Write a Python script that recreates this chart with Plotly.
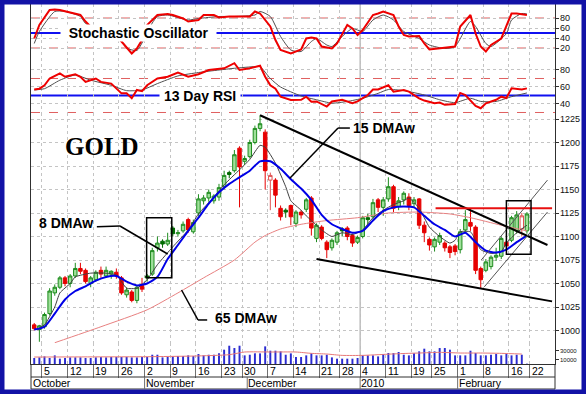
import plotly.graph_objects as go
import pandas as pd

# ---------------- calendar (US trading sessions) ----------------
HOLIDAYS = ["2009-11-26", "2009-12-25", "2010-01-01", "2010-01-18", "2010-02-15"]
axis_days = [d for d in pd.bdate_range("2009-10-01", "2010-02-26")
             if d.strftime("%Y-%m-%d") not in HOLIDAYS]
FIRST_SESSION = -2          # 1 Oct 2009 ; session 0 = Mon 5 Oct 2009
sessions = [FIRST_SESSION + i for i in range(len(axis_days))]

MONTH_TEXT = {10: "October", 11: "November", 12: "December", 1: "2010", 2: "February"}

# ---------------- price data (1 Oct 2009 .. 19 Feb 2010) ----------------
opens = [1006, 1001, 1004, 1018, 1040, 1046, 1056, 1050, 1058, 1066,
         1064, 1050, 1054, 1064, 1058, 1060, 1062, 1056, 1038, 1041,
         1032, 1048, 1058, 1060, 1088, 1095, 1092, 1109, 1103, 1106,
         1118, 1105, 1125, 1138, 1141, 1138, 1142, 1153, 1168, 1170,
         1194, 1180, 1185, 1200, 1215, 1211, 1160, 1160, 1130, 1128,
         1133, 1114, 1126, 1129, 1141, 1098, 1110, 1094, 1088, 1094,
         1108, 1109, 1101, 1094, 1100, 1120, 1121, 1139, 1131, 1140,
         1153, 1132, 1139, 1142, 1135, 1140, 1112, 1097, 1089, 1094,
         1093, 1089, 1090, 1086, 1107, 1115, 1110, 1066, 1064, 1068,
         1078, 1079, 1094, 1096, 1106, 1108, 1106]
highs = [1008, 1006, 1019, 1045, 1049, 1058, 1058, 1060, 1072, 1072,
         1066, 1058, 1064, 1068, 1068, 1064, 1066, 1058, 1046, 1043,
         1048, 1056, 1060, 1088, 1100, 1097, 1104, 1111, 1107, 1116,
         1120, 1118, 1145, 1144, 1150, 1145, 1156, 1170, 1170, 1192,
         1196, 1186, 1203, 1218, 1229, 1214, 1168, 1162, 1133, 1130,
         1134, 1128, 1128, 1141, 1143, 1114, 1112, 1096, 1098, 1106,
         1110, 1111, 1103, 1101, 1122, 1124, 1140, 1141, 1142, 1163,
         1155, 1142, 1148, 1146, 1142, 1141, 1116, 1099, 1099, 1104,
         1095, 1091, 1092, 1108, 1128, 1130, 1112, 1068, 1076, 1080,
         1088, 1100, 1096, 1122, 1127, 1125, 1126]
lows = [1000, 988, 1002, 1016, 1037, 1044, 1047, 1046, 1056, 1060,
        1050, 1046, 1052, 1056, 1056, 1055, 1055, 1038, 1035, 1030,
        1029, 1041, 1052, 1058, 1084, 1088, 1090, 1100, 1100, 1104,
        1104, 1103, 1122, 1134, 1137, 1135, 1138, 1150, 1162, 1168,
        1131, 1176, 1183, 1198, 1212, 1150, 1128, 1131, 1117, 1120,
        1112, 1110, 1119, 1126, 1101, 1094, 1096, 1077, 1085, 1091,
        1100, 1096, 1089, 1092, 1098, 1113, 1118, 1126, 1122, 1137,
        1126, 1128, 1134, 1128, 1131, 1108, 1094, 1085, 1084, 1091,
        1084, 1077, 1080, 1082, 1105, 1106, 1060, 1045, 1062, 1065,
        1074, 1076, 1086, 1094, 1103, 1100, 1103]
closes = [1002, 1005, 1017, 1042, 1046, 1056, 1050, 1058, 1066, 1063,
          1052, 1056, 1062, 1060, 1064, 1063, 1058, 1040, 1043, 1032,
          1046, 1044, 1056, 1085, 1093, 1092, 1096, 1103, 1104, 1113,
          1107, 1115, 1140, 1141, 1147, 1143, 1152, 1165, 1166, 1187,
          1174, 1183, 1200, 1215, 1220, 1170, 1165, 1144, 1121, 1126,
          1121, 1126, 1123, 1139, 1109, 1112, 1098, 1086, 1096, 1104,
          1106, 1100, 1093, 1099, 1120, 1118, 1136, 1131, 1139, 1153,
          1130, 1138, 1146, 1133, 1139, 1112, 1104, 1091, 1097, 1101,
          1088, 1083, 1084, 1105, 1118, 1111, 1064, 1054, 1073, 1078,
          1080, 1098, 1090, 1120, 1123, 1122, 1124]
# candle style: g = up (light green), r = down (red), d = dark green filled, p = hollow pink
styles = ["r", "g", "g", "g", "g", "g", "r", "g", "g", "r",
          "r", "g", "g", "r", "g", "g", "r", "r", "g", "r",
          "g", "r", "d", "g", "g", "d", "g", "d", "g", "g",
          "r", "g", "g", "g", "g", "g", "g", "g", "d", "g",
          "r", "g", "g", "g", "g", "r", "p", "r", "r", "d",
          "r", "g", "r", "g", "r", "g", "r", "r", "g", "g",
          "d", "r", "r", "g", "g", "d", "g", "r", "g", "g",
          "r", "g", "g", "r", "g", "r", "r", "r", "g", "g",
          "r", "r", "r", "g", "g", "r", "r", "r", "g", "g",
          "g", "g", "r", "g", "g", "p", "g"]
volume = [13700, 15100, 17400, 13700, 19700, 12200, 13700, 15100, 15100, 15100,
          13700, 13700, 15100, 15800, 15100, 16000, 16000, 16000, 16000, 15100,
          15100, 16000, 16000, 21200, 21200, 15100, 16000, 17400, 18100, 18100,
          19700, 18100, 22800, 19700, 21200, 21200, 24300, 32700, 41800, 36500,
          41800, 19700, 21200, 24300, 24300, 40300, 30400, 30400, 28900, 21200,
          24300, 16000, 16000, 19700, 24300, 19700, 19700, 21200, 15100, 12200,
          12200, 12200, 12200, 13700, 19700, 19700, 19700, 17400, 22800, 25100,
          25100, 27400, 21200, 19700, 24300, 28900, 35000, 28900, 28900, 36500,
          36500, 32700, 19700, 19700, 19700, 30400, 25100, 19700, 19700, 21200,
          22800, 19700, 22800, 19700, 21200, 21200, 800]

# ---------------- indicator readings (session number, value) ----------------
ma8_s = [-1, 0, 2, 3, 5, 6, 9, 12, 14, 15, 16, 18, 20, 22, 25, 28, 30, 33, 35, 38, 40, 42, 43, 45,
         47, 48, 50, 51, 52, 54, 56, 58, 60, 62, 64, 66, 68, 70, 71, 73, 75, 77, 79, 80, 81, 83,
         84, 85, 87, 89, 90, 92, 94]
ma8_v = [1003, 1006, 1025, 1040, 1050, 1057, 1061, 1061, 1059, 1052, 1045, 1045, 1054, 1070, 1089,
         1107, 1124, 1142, 1155, 1171, 1182, 1197, 1195, 1178, 1153, 1138, 1128, 1122, 1117, 1107,
         1100, 1104, 1102, 1107, 1120, 1128, 1134, 1138, 1141, 1130, 1110, 1100, 1093, 1096, 1105,
         1105, 1096, 1086, 1082, 1084, 1093, 1104, 1112]
ma15_s = [-2, 0, 2, 4, 6, 8, 10, 12, 14, 16, 18, 20, 22, 24, 26, 28, 30, 32, 34, 36, 38, 40, 42, 44,
          46, 48, 50, 52, 54, 56, 58, 60, 62, 64, 66, 68, 70, 72, 74, 76, 78, 80, 82, 84, 86, 88,
          90, 92, 94]
ma15_v = [1001, 1004, 1018, 1033, 1042, 1047, 1053, 1057, 1058, 1052, 1048, 1050, 1057, 1076, 1091,
          1106, 1120, 1135, 1147, 1156, 1163, 1170, 1180, 1180, 1172, 1161, 1151, 1139, 1123, 1113,
          1108, 1104, 1106, 1117, 1127, 1131, 1132, 1131, 1122, 1113, 1107, 1100, 1104, 1094, 1085,
          1083, 1086, 1094, 1101]
ma65_s = [2, 11, 20, 26, 31, 37, 41, 43, 46, 50, 55, 61, 67, 73, 79, 83, 89, 94]
ma65_v = [987, 1004, 1022, 1040, 1056, 1075, 1094, 1101, 1108, 1113, 1117, 1120, 1125, 1126, 1124,
          1120, 1112, 1106]
volma_s = [-2, 10, 20, 29, 36, 39, 44, 49, 52, 55, 58, 62, 65, 69, 73, 77, 81, 85, 89, 93]
volma_v = [15900, 16300, 16700, 18200, 21300, 27400, 27400, 27400, 24300, 22800, 19700, 19700,
           21300, 23600, 25100, 26600, 25100, 25100, 24300, 22800]

stoch_k_s = [-2, -1, 1, 2, 3, 5, 7, 8, 10, 12, 14, 15, 17, 18, 19, 20, 22, 24, 25, 27, 28, 30, 31, 33,
             34, 36, 38, 40, 41, 42, 44, 45, 46, 48, 50, 51, 52, 53, 54, 56, 57, 58, 59, 60, 61, 62,
             64, 65, 66, 68, 69, 70, 71, 73, 74, 75, 77, 79, 80, 81, 83, 84, 85, 86, 87, 89, 90, 91,
             92, 94]
stoch_k_v = [39, 66, 96, 97, 96, 91, 86, 73, 52, 58, 45, 33, 9, 19, 36, 66, 86, 88, 86, 79, 73, 76,
             86, 86, 81, 83, 83, 83, 93, 89, 63, 36, 16, 9, 17, 39, 41, 39, 23, 19, 29, 49, 66, 59,
             46, 56, 86, 89, 93, 86, 63, 46, 43, 44, 29, 17, 19, 21, 23, 63, 86, 49, 23, 13, 26, 39,
             63, 89, 89, 86]
stoch_d_s = [-2, -1, 2, 4, 7, 8, 10, 12, 14, 16, 18, 19, 21, 22, 24, 28, 30, 34, 37, 41, 42, 44, 46,
             48, 50, 52, 53, 55, 56, 58, 60, 62, 64, 66, 68, 70, 73, 75, 78, 80, 83, 84, 86, 87, 90,
             91, 93, 94]
stoch_d_v = [29, 53, 93, 93, 83, 69, 60, 55, 48, 20, 15, 30, 70, 83, 86, 76, 79, 83, 83, 86, 93, 83,
             43, 16, 13, 33, 39, 26, 23, 43, 59, 53, 76, 86, 76, 53, 39, 26, 19, 23, 73, 63, 29, 23,
             49, 76, 89, 88]
rsi_s = [-2, -1, 0, 1, 3, 4, 6, 7, 8, 10, 11, 13, 15, 16, 17, 18, 19, 20, 22, 24, 26, 28, 30, 32, 35,
         37, 38, 40, 42, 43, 44, 45, 46, 48, 50, 51, 52, 53, 55, 56, 58, 60, 61, 63, 64, 65, 67, 68,
         70, 71, 73, 74, 76, 77, 78, 80, 81, 82, 84, 85, 86, 88, 89, 90, 91, 93, 94]
rsi_v = [57, 58, 62, 70, 76, 72, 75, 72, 66, 70, 66, 64, 52.5, 52.5, 46.7, 56.5, 55, 62, 70, 72, 77,
         72, 75, 80, 82, 88, 80, 82, 85, 72, 62, 58, 48.6, 44.7, 45, 48.6, 42.7, 43, 37, 43, 45, 41,
         43, 50.6, 57, 57, 62, 54.5, 56.5, 54.5, 46.7, 44, 40.8, 41.6, 39, 40, 53, 50.6, 37.6, 35,
         40.8, 45, 48.6, 47, 58.4, 57, 58.4]
rsi_sig_s = [-2, 0, 3, 6, 9, 13, 16, 19, 22, 26, 30, 34, 37, 41, 42, 44, 46, 50, 53, 56, 59, 62, 65,
             67, 70, 74, 77, 80, 83, 85, 88, 91, 94]
rsi_sig_v = [56.5, 58, 68, 74, 68, 62, 55.7, 56.5, 64, 73, 77, 80, 82, 84, 84, 70, 60, 49.4, 45, 41,
             43, 46.7, 52.5, 57, 55.7, 50.6, 45, 41.6, 46.7, 43, 43, 48.6, 53]

price_ticks = [1000, 1025, 1050, 1075, 1100, 1125, 1150, 1175, 1200, 1225]

# ---------------- geometry helpers (pixels -> paper) ----------------
W, H = 586, 394
L, R, T, B = 31, 31, 4, 30
PW, PH = W - L - R, H - T - B
def px(xp):
    return (xp - L) / PW
def py(yp):
    return (H - B - yp) / PH

XMIN, XMAX = -2.63, 99.47
n = len(closes)
xc = sessions[:n]

fig = go.Figure()

# volume
fig.add_trace(go.Bar(x=xc, y=volume, width=0.38, marker=dict(color="#2b2bd0", line=dict(width=0)),
                     yaxis="y", hoverinfo="skip"))
fig.add_trace(go.Scatter(x=volma_s, y=volma_v, mode="lines", yaxis="y",
                         line=dict(color="#e87878", width=1, shape="spline", smoothing=0.6)))

# 65 DMA
fig.add_trace(go.Scatter(x=ma65_s, y=ma65_v, mode="lines", yaxis="y2",
                         line=dict(color="#e88080", width=1, shape="spline", smoothing=0.6)))

# candles
STYLE = {"g": ("#9fe09a", "#1e8c1e"), "r": ("#e60000", "#e60000"),
         "d": ("#006a00", "#006a00"), "p": ("#ffffff", "#e05050")}
for key, (fillc, linec) in STYLE.items():
    ids = [i for i, s in enumerate(styles) if s == key]
    side = dict(fillcolor=fillc, line=dict(color=linec, width=1))
    fig.add_trace(go.Candlestick(
        x=[xc[i] for i in ids], open=[opens[i] for i in ids], high=[highs[i] for i in ids],
        low=[lows[i] for i in ids], close=[closes[i] for i in ids],
        increasing=side, decreasing=side, yaxis="y2", whiskerwidth=0, hoverinfo="skip"))

fig.add_trace(go.Scatter(x=ma8_s, y=ma8_v, mode="lines", yaxis="y2",
                         line=dict(color="#404040", width=1, shape="spline", smoothing=0.5)))
fig.add_trace(go.Scatter(x=ma15_s, y=ma15_v, mode="lines", yaxis="y2",
                         line=dict(color="#0000e6", width=2, shape="spline", smoothing=0.6)))

# RSI
fig.add_trace(go.Scatter(x=rsi_sig_s, y=rsi_sig_v, mode="lines", yaxis="y3",
                         line=dict(color="#505050", width=1, shape="spline", smoothing=0.6)))
fig.add_trace(go.Scatter(x=rsi_s, y=rsi_v, mode="lines", yaxis="y3",
                         line=dict(color="#ee0000", width=2)))
# Stochastic
fig.add_trace(go.Scatter(x=stoch_d_s, y=stoch_d_v, mode="lines", yaxis="y4",
                         line=dict(color="#505050", width=1, shape="spline", smoothing=0.6)))
fig.add_trace(go.Scatter(x=stoch_k_s, y=stoch_k_v, mode="lines", yaxis="y4",
                         line=dict(color="#ee0000", width=2)))

# ---------------- axes ----------------
week_starts = [i for i in range(1, len(axis_days))
               if axis_days[i].isocalendar()[1] != axis_days[i - 1].isocalendar()[1]]
month_starts = [i for i in range(len(axis_days))
                if i == 0 or axis_days[i].month != axis_days[i - 1].month]
week_ticks = [sessions[i] - 0.5 for i in week_starts]

grid = dict(showgrid=True, gridcolor="#c4c4c4", griddash="dot", gridwidth=1)
yax_common = dict(side="right", anchor="x", ticks="outside", ticklen=3, tickcolor="#303030",
                  showline=True, linecolor="#303030", linewidth=1, mirror=True,
                  zeroline=False, fixedrange=True, showticklabels=False)

fig.update_layout(
    width=W, height=H, margin=dict(l=L, r=R, t=T, b=B, pad=0),
    paper_bgcolor="white", plot_bgcolor="rgba(0,0,0,0)",
    showlegend=False, hovermode=False, boxgap=0.25, boxgroupgap=0.1,
    font=dict(family="Liberation Sans, Arial, sans-serif", size=9, color="#000"),
    xaxis=dict(range=[XMIN, XMAX], domain=[0, 1], anchor="y", tickmode="array",
               tickvals=week_ticks, showticklabels=False, ticks="outside", ticklen=13,
               tickwidth=1, tickcolor="#707070", showline=True, linecolor="#303030",
               zeroline=False, fixedrange=True, rangeslider=dict(visible=False), **grid),
    yaxis=dict(domain=[0, py(343)], range=[0, 48000], tickvals=[10000, 30000],
               showgrid=False, **yax_common),
    yaxis2=dict(domain=[py(343), py(113)], range=[986.7, 1231.4], tickvals=price_ticks,
                **grid, **yax_common),
    yaxis3=dict(domain=[py(113), py(58)], range=[29.4, 94.1], tickvals=[40, 60, 80],
                **grid, **yax_common),
    yaxis4=dict(domain=[py(58), 1], range=[0, 108], tickvals=[20, 40, 60, 80],
                **grid, **yax_common),
)

# ---------------- shapes ----------------
shapes = []
def hline(yref, y, color, width, dash="solid"):
    shapes.append(dict(type="line", xref="x", yref=yref, x0=XMIN, x1=XMAX, y0=y, y1=y,
                       line=dict(color=color, width=width, dash=dash), layer="below"))
hline("y4", 80, "#e06060", 1, "dash")
hline("y4", 20, "#e06060", 1, "dash")
hline("y4", 50, "#1010f0", 2)
hline("y3", 70, "#e06060", 1, "dash")
hline("y3", 30, "#e06060", 1, "dash")
hline("y3", 50, "#1010f0", 2)

# year boundary
yb = [sessions[i] - 0.5 for i in month_starts if axis_days[i].month == 1][0]
shapes.append(dict(type="line", xref="x", yref="paper", x0=yb, x1=yb, y0=0, y1=1,
                   line=dict(color="#9a9a9a", width=1), layer="below"))

def seg(x0, y0, x1, y1, color="#000", width=2):
    shapes.append(dict(type="line", xref="x", yref="y2", x0=x0, y0=y0, x1=x1, y1=y1,
                       line=dict(color=color, width=width)))
def box(x0, y0, x1, y1):
    shapes.append(dict(type="rect", xref="x", yref="y2", x0=x0, y0=y0, x1=x1, y1=y1,
                       line=dict(color="#000", width=1.5)))

# drawn trend lines / annotations on the price panel
seg(42, 1229, 98, 1091)                      # falling resistance
seg(53, 1076, 98.9, 1031)                    # falling support
seg(85.1, 1075, 98, 1160, "#555", 1)         # rising channel
seg(85.7, 1046.5, 98, 1126, "#555", 1)
seg(76.2, 1130, 98.9, 1130, "#e81010", 2)    # horizontal resistance
box(19.9, 1056, 24.8, 1120)
box(90.0, 1081, 94.8, 1138)
# leaders
seg(10.2, 1110.4, 14.7, 1111.2, "#000", 1.5)
seg(14.7, 1111.2, 24.0, 1081.4, "#000", 1.5)
seg(59.5, 1215.4, 57.2, 1215.4, "#000", 1.5)
seg(57.2, 1215.4, 47.8, 1161.9, "#000", 1.5)
seg(26.7, 1043.1, 29.9, 1011.2, "#000", 1.5)
seg(29.9, 1011.2, 31.7, 1011.2, "#000", 1.5)

# date strip
for yy in (py(377), py(389)):
    shapes.append(dict(type="line", xref="paper", yref="paper", x0=0, x1=1, y0=yy, y1=yy,
                       line=dict(color="#303030", width=1)))
for xx in (0, 1):
    shapes.append(dict(type="line", xref="paper", yref="paper", x0=xx, x1=xx, y0=0, y1=py(389),
                       line=dict(color="#303030", width=1)))
for i in month_starts[1:]:
    xs = sessions[i] - 0.5
    shapes.append(dict(type="line", xref="x", yref="paper", x0=xs, x1=xs, y0=py(377), y1=py(389),
                       line=dict(color="#707070", width=1)))

# blue frame
shapes.append(dict(type="rect", xref="paper", yref="paper", x0=px(0), x1=px(W), y0=py(H), y1=py(0),
                   line=dict(color="#1212a6", width=9)))

fig.update_layout(shapes=shapes)

# ---------------- texts ----------------
ann = []
NB = "\u00a0"
def label(text, xp, yp, size=14, xanchor="center", **kw):
    ann.append(dict(text=text, xref="paper", yref="paper", x=px(xp), y=py(yp),
                    xanchor=xanchor, yanchor="middle", showarrow=False,
                    font=dict(size=size, color="#000", **kw.pop("font", {})), **kw))

label("<b>" + NB * 2 + "Stochastic Oscillator" + NB * 2 + "</b>", 138.5, 33,
      bgcolor="white", borderpad=0)
label("<b>" + NB + "13 Day RSI" + NB + "</b>", 200, 95.5, bgcolor="white", borderpad=0)
label("<b>GOLD</b>", 102, 146, size=25,
      font=dict(family="Liberation Serif, Times New Roman, serif"))
for txt, xl, yc in (("8 DMAw", 37, 223), ("15 DMAw", 351, 128), ("65 DMAw", 213, 318)):
    label("<b>" + txt + "</b>", xl, yc, xanchor="left")

# right-hand axis labels
for yref, vals, size in (("y4", [20, 40, 60, 80], 9), ("y3", [40, 60, 80], 9),
                         ("y2", price_ticks, 9), ("y", [10000, 30000], 6)):
    for v in vals:
        ann.append(dict(text=str(v), xref="paper", yref=yref, x=px(559), y=v,
                        xanchor="left", yanchor="middle", showarrow=False, borderpad=0,
                        font=dict(size=size, color="#111")))

for i in week_starts:
    ann.append(dict(text=str(axis_days[i].day), xref="x", yref="paper", x=sessions[i] - 0.3,
                    y=py(371), xanchor="left", yanchor="middle", showarrow=False, borderpad=0,
                    font=dict(size=10.5, color="#000")))
for i in month_starts:
    ann.append(dict(text=MONTH_TEXT[axis_days[i].month], xref="x", yref="paper",
                    x=max(sessions[i] - 0.5, XMIN) + 0.05, y=py(383), xanchor="left",
                    yanchor="middle", showarrow=False, borderpad=0,
                    font=dict(size=10.5, color="#000")))
fig.update_layout(annotations=ann)

fig.write_html("out.html", config={"displayModeBar": False, "staticPlot": True},
               post_script="document.body.style.margin='0px';")
